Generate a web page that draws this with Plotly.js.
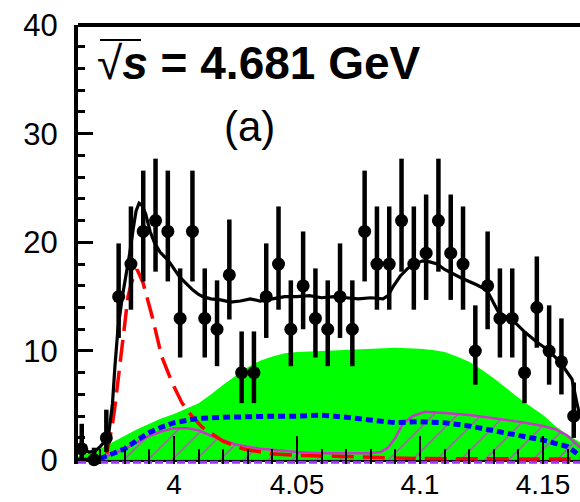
<!DOCTYPE html>
<html>
<head>
<meta charset="utf-8">
<script src="https://cdn.plot.ly/plotly-3.0.1.min.js"></script>
<style>
html,body{margin:0;padding:0;background:#fff;overflow:hidden;}
#chart{width:580px;height:502px;}
</style>
</head>
<body>
<div id="chart"></div>
<script>
// ---- data points (bin centres, counts, asymmetric errors) ----
const binCenters = [3.9625,3.9675,3.9725,3.9775,3.9825,3.9875,3.9925,3.9975,4.0025,4.0075,4.0125,4.0175,4.0225,4.0275,4.0325,4.0375,4.0425,4.0475,4.0525,4.0575,4.0625,4.0675,4.0725,4.0775,4.0825,4.0875,4.0925,4.0975,4.1025,4.1075,4.1125,4.1175,4.1225,4.1275,4.1325,4.1375,4.1425,4.1475,4.1525,4.1575,4.1625];
const counts = [1,0,2,15,18,21,22,21,13,21,13,12,17,8,8,15,18,12,16,13,12,15,12,21,18,18,22,18,19,22,19,18,10,16,13,13,8,14,10,9,4];
const errPlus = [2.3,1.1,2.6,4.9,5.3,5.6,5.7,5.6,4.6,5.6,4.6,4.5,5.1,3.8,3.8,4.9,5.3,4.5,5.0,4.6,4.5,4.9,4.5,5.6,5.3,5.3,5.7,5.3,5.4,5.7,5.4,5.3,4.2,5.0,4.6,4.6,3.8,4.7,4.2,4.0,3.1];
const errMinus = [0.9,0,1.3,3.8,4.2,4.6,4.7,4.6,3.6,4.6,3.6,3.4,4.1,2.8,2.8,3.8,4.2,3.4,4.0,3.6,3.4,3.8,3.4,4.6,4.2,4.2,4.7,4.2,4.3,4.7,4.3,4.2,3.1,4.0,3.6,3.6,2.8,3.7,3.1,3.0,2.0];

// ---- total fit (black solid) ----
const fitX = [3.9610,3.9630,3.9655,3.9680,3.9700,3.9720,3.9735,3.9750,3.9760,3.9772,3.9790,3.9808,3.9820,3.9834,3.9846,3.9858,3.9870,3.9885,3.9903,3.9920,3.9943,3.9965,3.9984,4.0005,4.0024,4.0050,4.0077,4.0100,4.0118,4.0150,4.0190,4.0230,4.0270,4.0310,4.0350,4.0400,4.0450,4.0500,4.0550,4.0600,4.0650,4.0700,4.0750,4.0800,4.0850,4.0870,4.0890,4.0920,4.0950,4.0980,4.1010,4.1040,4.1070,4.1100,4.1170,4.1230,4.1272,4.1300,4.1321,4.1374,4.1423,4.1476,4.1520,4.1569,4.1618,4.1638,4.1651];
const fitY = [1.4,1.0,0.7,0.8,1.2,1.7,2.4,5.2,8.6,12.0,15.0,17.2,19.0,21.2,22.9,23.6,23.4,22.6,21.0,20.0,19.1,18.6,18.1,17.4,16.8,16.2,15.6,15.2,15.0,14.8,14.7,14.5,14.6,14.8,14.6,14.8,15.0,15.0,15.1,14.9,15.0,14.9,14.8,14.9,14.8,15.1,15.9,16.9,17.6,18.0,18.3,18.2,18.0,17.5,16.7,16.1,15.6,14.4,13.5,12.9,11.8,10.8,10.1,9.0,7.4,5.2,3.9];

// ---- signal (red long-dashed) ----
const redX = [3.9610,3.9700,3.9725,3.9748,3.9760,3.9793,3.9813,3.9829,3.9850,3.9874,3.9911,3.9950,3.9992,4.0033,4.0073,4.0114,4.0146,4.0199,4.0280,4.0390,4.0500,4.0650,4.0850,4.1000,4.1651];
const redY = [0.05,0.05,0.4,3.0,4.9,11.3,15.0,16.4,17.5,16.3,13.2,9.5,7.1,5.2,4.0,3.0,2.5,1.7,1.0,0.55,0.4,0.3,0.2,0.1,0.05];

// ---- green filled component ----
const greenX = [3.9610,3.965,3.970,3.975,3.980,3.985,3.990,3.995,4.000,4.005,4.010,4.015,4.020,4.025,4.030,4.035,4.040,4.045,4.050,4.060,4.070,4.080,4.090,4.100,4.105,4.110,4.115,4.120,4.125,4.130,4.135,4.140,4.145,4.150,4.155,4.160,4.1651];
const greenY = [0.3,0.6,1.0,1.6,2.2,2.8,3.3,3.8,4.2,4.7,5.2,6.0,6.9,7.7,8.5,9.1,9.5,9.8,9.9,10.0,10.1,10.2,10.3,10.2,10.1,9.9,9.5,9.0,8.3,7.5,6.6,5.7,4.9,4.1,3.1,2.3,1.6];

// ---- blue dashed component ----
const blueX = [3.970,3.972,3.976,3.980,3.985,3.990,3.995,4.000,4.005,4.010,4.020,4.030,4.040,4.050,4.060,4.070,4.080,4.090,4.100,4.110,4.120,4.130,4.140,4.150,4.155,4.160,4.163,4.1651];
const blueY = [0.1,0.3,0.6,1.0,1.8,2.5,3.0,3.4,3.6,3.8,3.9,4.0,4.0,4.0,4.1,3.9,3.7,3.4,3.5,3.4,3.1,2.7,2.2,1.8,1.5,1.2,0.7,0.3];

// ---- magenta hatched component ----
const magX = [3.970,3.975,3.980,3.985,3.990,3.995,4.000,4.005,4.010,4.015,4.020,4.025,4.030,4.035,4.040,4.050,4.060,4.070,4.080,4.084,4.087,4.090,4.093,4.097,4.102,4.110,4.120,4.130,4.140,4.150,4.155,4.160,4.163,4.1651];
const magY = [0.2,0.5,1.0,1.6,2.2,2.6,2.9,2.9,2.7,2.2,1.8,1.4,1.2,1.0,0.9,0.7,0.6,0.6,0.6,0.7,1.1,2.0,3.3,4.0,4.4,4.3,4.1,3.8,3.5,3.1,2.8,2.2,1.6,1.1];

// ---- violet dashed component along the bottom ----
const violetX = [3.9610,4.1651];
const violetY = [-0.25,-0.25];

const FONT = 'Liberation Sans, Arial, Helvetica, sans-serif';

const traces = [
  {x: greenX, y: greenY, mode: 'lines', fill: 'tozeroy', fillcolor: '#00ff00',
   line: {width: 0, color: '#00ff00'}, hoverinfo: 'skip'},
  {x: magX, y: magY, mode: 'lines', fill: 'tozeroy', fillcolor: '#00ff00',
   fillpattern: {shape: '/', fgcolor: '#dd33dd', bgcolor: '#00ff00', fgopacity: 1, size: 17, solidity: 0.08},
   line: {color: '#cc33cc', width: 2.5}, hoverinfo: 'skip'},
  {x: redX, y: redY, mode: 'lines', line: {color: '#ff0000', width: 3.5, dash: '22px,9px'}},
  {x: blueX, y: blueY, mode: 'lines', line: {color: '#0000ff', width: 5, dash: '7px,4px'}},
  {x: violetX, y: violetY, mode: 'lines', line: {color: '#9933ff', width: 3, dash: '8px,3px'}},
  {x: fitX, y: fitY, mode: 'lines', line: {color: '#000000', width: 3.2}},
  {x: binCenters, y: counts, mode: 'markers', cliponaxis: false,
   marker: {color: '#000000', size: 13, symbol: 'circle'},
   error_y: {type: 'data', symmetric: false, array: errPlus, arrayminus: errMinus,
             thickness: 4.5, width: 0, color: '#000000'}}
];

const layout = {
  width: 580, height: 502,
  margin: {l: 78, r: 0, t: 25, b: 38, pad: 0},
  paper_bgcolor: '#ffffff', plot_bgcolor: '#ffffff',
  showlegend: false,
  font: {family: FONT, color: '#000000'},
  xaxis: {
    range: [3.96098, 4.16505], tick0: 4, dtick: 0.05,
    ticks: 'inside', ticklen: 28, tickwidth: 2, tickcolor: '#000000',
    showline: false, zeroline: false, showgrid: false,
    minor: {tick0: 4, dtick: 0.01, ticks: 'inside', ticklen: 15, tickwidth: 2, tickcolor: '#000000', showgrid: false},
    tickfont: {family: FONT, size: 28, color: '#000000'},
    ticklabelstandoff: 1
  },
  yaxis: {
    range: [-0.4, 40], tick0: 0, dtick: 10,
    ticks: 'inside', ticklen: 15, tickwidth: 3, tickcolor: '#000000',
    showline: true, linewidth: 4, linecolor: '#000000', mirror: false,
    zeroline: true, zerolinecolor: '#000000', zerolinewidth: 4,
    showgrid: false,
    minor: {tick0: 0, dtick: 2, ticks: 'inside', ticklen: 7, tickwidth: 3, tickcolor: '#000000', showgrid: false},
    tickfont: {family: FONT, size: 31, color: '#000000'},
    ticklabelstandoff: 10
  },
  shapes: [
    {type: 'line', xref: 'paper', yref: 'paper', x0: 0, x1: 1, y0: 1, y1: 1,
     line: {color: '#000000', width: 4}},
    {type: 'line', xref: 'paper', yref: 'paper', x0: 0.0438, x1: 0.1255, y0: 0.9658, y1: 0.9658,
     line: {color: '#000000', width: 2}}
  ],
  annotations: [
    {xref: 'paper', yref: 'paper', x: 0.034, y: 0.914, xanchor: 'left', yanchor: 'middle',
     showarrow: false, text: '√<b><i>s</i> = 4.681 GeV</b>',
     font: {family: FONT, size: 46, color: '#000000'}},
    {xref: 'paper', yref: 'paper', x: 0.3426, y: 0.768, xanchor: 'center', yanchor: 'middle',
     showarrow: false, text: '(a)',
     font: {family: FONT, size: 42, color: '#000000'}}
  ]
};

Plotly.newPlot('chart', traces, layout, {displayModeBar: false, staticPlot: true});
</script>
</body>
</html>
